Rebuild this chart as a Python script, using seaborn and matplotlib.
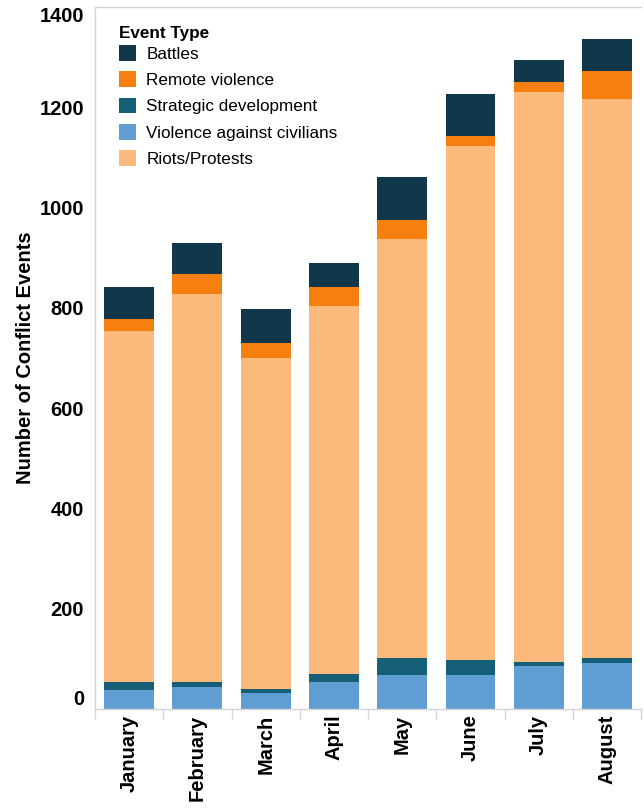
import pandas as pd
import matplotlib.pyplot as plt
import seaborn as sns
from matplotlib.patches import Patch

# ==============================
# DATA
# ==============================

months = ['January', 'February', 'March', 'April', 'May', 'June', 'July', 'August']

violence_civilians = [38, 43, 32, 54, 67, 67, 86, 91]
strategic = [16, 11, 8, 16, 35, 30, 8, 11]
riots = [699, 774, 661, 734, 836, 1026, 1136, 1115]
remote = [24, 40, 28, 37, 37, 20, 21, 56]
battles = [64, 61, 69, 48, 86, 84, 43, 64]

event_types = ['Battles', 'Remote violence', 'Strategic development',
               'Violence against civilians', 'Riots/Protests']
colors = {
    'Battles': '#11384a',
    'Remote violence': '#f6800f',
    'Strategic development': '#165f78',
    'Violence against civilians': '#5f9dd2',
    'Riots/Protests': '#fbb97b',
}

# ==============================
# PREPARE STACK (cumulative, bottom to top)
# ==============================

df = pd.DataFrame({
    'month': months,
    'Violence against civilians': violence_civilians,
    'Strategic development': strategic,
    'Riots/Protests': riots,
    'Remote violence': remote,
    'Battles': battles,
})

stack_order = ['Violence against civilians', 'Strategic development',
               'Riots/Protests', 'Remote violence', 'Battles']
cum = df[stack_order].cumsum(axis=1)
cum['month'] = df['month']

# ==============================
# PLOT
# ==============================

sns.set_style('white')
plt.rcParams['font.family'] = ['Liberation Sans', 'DejaVu Sans']
plt.rcParams['text.color'] = 'black'
plt.rcParams['axes.labelcolor'] = 'black'
plt.rcParams['xtick.labelcolor'] = 'black'
plt.rcParams['ytick.labelcolor'] = 'black'

fig = plt.figure(figsize=(6.44, 8.09), dpi=100)
ax = fig.add_axes([0.1475, 0.1236, 0.848, 0.8677])

# draw tallest layer first so the shorter ones sit on top of it
for layer in reversed(stack_order):
    sns.barplot(data=cum, x='month', y=layer, order=months,
                color=colors[layer], width=0.73, saturation=1,
                ax=ax, linewidth=0)

ax.set_ylim(0, 1400)
ax.set_xlim(-0.5, len(months) - 0.5)
ax.set_yticks(range(0, 1401, 200))
ax.set_yticklabels([str(v) for v in range(0, 1401, 200)],
                   fontsize=14.5, fontweight='bold', color='black')
labels = ax.get_yticklabels()
labels[0].set_va('bottom')
labels[-1].set_va('top')

ax.set_xticks(range(len(months)))
ax.set_xticklabels(months, rotation=90, fontsize=14.5, fontweight='bold',
                   color='black')
ax.set_xticks([i + 0.5 for i in range(-1, len(months))], minor=True)

ax.set_xlabel('')
ax.set_ylabel('Number of Conflict Events', fontsize=14.5, fontweight='bold',
              labelpad=3, color='black')

for side in ['left', 'bottom', 'top']:
    ax.spines[side].set_color('#d4d4d4')
    ax.spines[side].set_linewidth(1)
ax.spines['right'].set_visible(False)

ax.tick_params(axis='y', which='major', length=5, color='#d4d4d4', width=1, pad=3)
ax.tick_params(axis='x', which='major', length=0, pad=4)
ax.tick_params(axis='x', which='minor', bottom=True, length=7, color='#d4d4d4', width=1)

handles = [Patch(facecolor=colors[e], edgecolor='none') for e in event_types]
leg = ax.legend(handles, event_types, title='Event Type', loc='upper left',
                bbox_to_anchor=(0.025, 0.988), frameon=False, fontsize=12.3,
                handlelength=1.0, handleheight=1.05, handletextpad=0.6,
                labelspacing=0.56, borderaxespad=0.2)
leg.get_title().set_fontweight('bold')
leg.get_title().set_fontsize(12.3)
leg._legend_box.align = 'left'
leg._legend_box.sep = 3

plt.savefig('out.png', dpi=100)
